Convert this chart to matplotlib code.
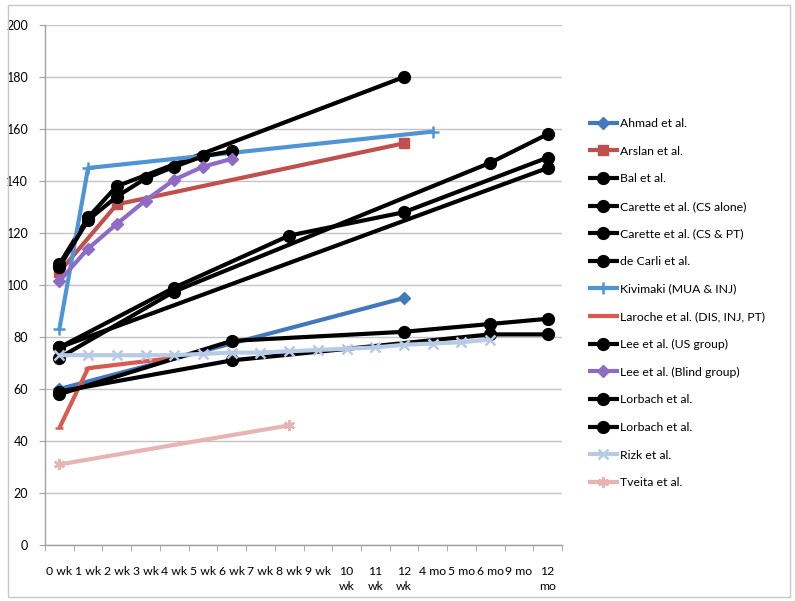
import matplotlib
matplotlib.use("Agg")
import matplotlib.pyplot as plt
from matplotlib.patches import Rectangle

plt.rcParams['font.family'] = ['Lato', 'DejaVu Sans']

categories = ["0 wk", "1 wk", "2 wk", "3 wk", "4 wk", "5 wk", "6 wk", "7 wk", "8 wk",
              "9 wk", "10 wk", "11 wk", "12 wk", "4 mo", "5 mo", "6 mo", "9 mo", "12 mo"]
tick_labels = ["0 wk", "1 wk", "2 wk", "3 wk", "4 wk", "5 wk", "6 wk", "7 wk", "8 wk",
               "9 wk", "10\nwk", "11\nwk", "12\nwk", "4 mo", "5 mo", "6 mo", "9 mo", "12\nmo"]
y_ticks = [0, 20, 40, 60, 80, 100, 120, 140, 160, 180, 200]

ahmad_x = ["0 wk", "12 wk"]
ahmad_y = [60, 95]
arslan_x = ["0 wk", "2 wk", "12 wk"]
arslan_y = [105, 131, 154.5]
bal_x = ["0 wk", "1 wk", "2 wk", "12 wk"]
bal_y = [108, 126, 138, 180]
carette_alone_x = ["0 wk", "4 wk", "8 wk", "12 wk", "12 mo"]
carette_alone_y = [76, 99, 119, 128, 149]
carette_pt_x = ["0 wk", "4 wk", "6 mo", "12 mo"]
carette_pt_y = [72, 97.5, 147, 158]
decarli_x = ["0 wk", "12 mo"]
decarli_y = [76, 145]
kivimaki_x = ["0 wk", "1 wk", "4 mo"]
kivimaki_y = [83, 145, 159]
laroche_x = ["0 wk", "1 wk", "4 wk"]
laroche_y = [45, 68, 72]
lee_us_x = ["0 wk", "1 wk", "2 wk", "3 wk", "4 wk", "5 wk", "6 wk"]
lee_us_y = [107, 125, 134, 141, 145.5, 149.5, 151.5]
lee_blind_x = ["0 wk", "1 wk", "2 wk", "3 wk", "4 wk", "5 wk", "6 wk"]
lee_blind_y = [101.5, 114, 123.5, 132.5, 140.5, 145.5, 148.5]
lorbach1_x = ["0 wk", "6 wk", "12 wk", "6 mo", "12 mo"]
lorbach1_y = [58, 78.5, 82, 85, 87]
lorbach2_x = ["0 wk", "6 wk", "6 mo", "12 mo"]
lorbach2_y = [59, 71, 81, 81]
rizk_x = ["0 wk", "1 wk", "2 wk", "3 wk", "4 wk", "5 wk", "6 wk", "7 wk", "8 wk",
          "9 wk", "10 wk", "11 wk", "12 wk", "4 mo", "5 mo", "6 mo"]
rizk_y = [73, 73, 73, 73, 73, 73.5, 74, 74, 74.5, 75, 75.5, 76, 77, 77.5, 78, 79]
tveita_x = ["0 wk", "8 wk"]
tveita_y = [31, 46]

series = [
    ("Ahmad et al.", ahmad_x, ahmad_y, "#4279BC", "D", 6),
    ("Arslan et al.", arslan_x, arslan_y, "#C0504D", "s", 7),
    ("Bal et al.", bal_x, bal_y, "#000000", "o", 8.5),
    ("Carette et al. (CS alone)", carette_alone_x, carette_alone_y, "#000000", "o", 8.5),
    ("Carette et al. (CS & PT)", carette_pt_x, carette_pt_y, "#000000", "o", 8.5),
    ("de Carli et al.", decarli_x, decarli_y, "#000000", "o", 8.5),
    ("Kivimaki (MUA & INJ)", kivimaki_x, kivimaki_y, "#4F95D6", "+", 8),
    ("Laroche et al. (DIS, INJ, PT)", laroche_x, laroche_y, "#DB5A50", "_", 6),
    ("Lee et al. (US group)", lee_us_x, lee_us_y, "#000000", "o", 8.5),
    ("Lee et al. (Blind group)", lee_blind_x, lee_blind_y, "#8E6CC6", "D", 6),
    ("Lorbach et al.", lorbach1_x, lorbach1_y, "#000000", "o", 8.5),
    ("Lorbach et al.", lorbach2_x, lorbach2_y, "#000000", "o", 8.5),
    ("Rizk et al.", rizk_x, rizk_y, "#B7CAE6", "x", 7),
    ("Tveita et al.", tveita_x, tveita_y, "#E6B4B3", (6, 2, 0), 8),
]

fig = plt.figure(figsize=(7.95, 6.01), dpi=100)
fig.patches.append(Rectangle((8 / 795, 4 / 601), 782 / 795, 592 / 601,
                             transform=fig.transFigure, fill=False,
                             edgecolor="#C8C8C8", linewidth=1.0))
ax = fig.add_axes([45 / 795, 1 - 545 / 601, 517 / 795, 520 / 601])

for i, (name, xs, ys, col, mk, ms) in enumerate(series):
    xi = [categories.index(c) for c in xs]
    ax.plot(xi, ys, color=col, linewidth=3.0, marker=mk, markersize=ms,
            markeredgewidth=1.8 if mk in ("+", "x", "_") or isinstance(mk, tuple) else 1.0,
            markeredgecolor=col, markerfacecolor=col, label=name, zorder=3 + i,
            solid_capstyle="butt")

ax.set_xlim(-0.5, len(categories) - 0.5)
ax.set_ylim(0, 200)
ax.set_yticks(y_ticks)
ax.set_yticklabels([str(v) for v in y_ticks], fontsize=9)
ax.set_xticks(range(len(categories)))
ax.set_xticklabels(tick_labels, fontsize=8.8, va="top", linespacing=1.45)
ax.set_xticks([k - 0.5 for k in range(len(categories) + 1)], minor=True)
ax.tick_params(axis="x", which="major", length=0, pad=15)
ax.tick_params(axis="x", which="minor", length=4, color="#A0A0A0", direction="out")
ax.tick_params(axis="y", length=4, color="#A0A0A0", pad=8)
ax.grid(axis="y", color="#C4C4C4", linewidth=1.0)
ax.set_axisbelow(True)
for s in ("top", "right"):
    ax.spines[s].set_visible(False)
for s in ("left", "bottom"):
    ax.spines[s].set_color("#A0A0A0")
    ax.spines[s].set_linewidth(1.0)

ax.legend(loc="upper left", bbox_to_anchor=(588 / 795, 1 - 118 / 601),
          bbox_transform=fig.transFigure, frameon=False, fontsize=8.8,
          numpoints=1, handlelength=2.5, handletextpad=0.15, labelspacing=1.36,
          borderaxespad=0, borderpad=0)

fig.savefig("out.png", dpi=100)
